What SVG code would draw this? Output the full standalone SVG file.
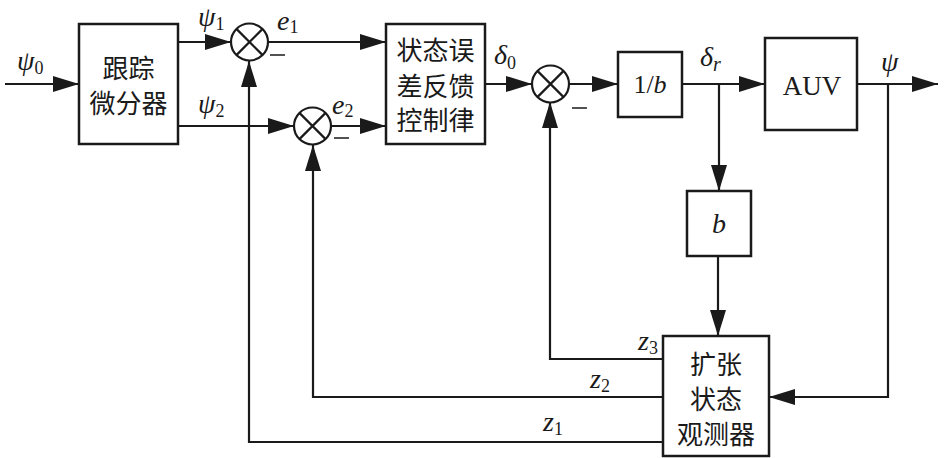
<svg xmlns="http://www.w3.org/2000/svg" width="945" height="458" viewBox="0 0 945 458">
<style>
.box{fill:#fff;stroke:#1a1a1a;stroke-width:2.5}
.ln{fill:none;stroke:#1a1a1a;stroke-width:2.2}
.mn{fill:none;stroke:#1a1a1a;stroke-width:1.5}
.sum{fill:#fff;stroke:#1a1a1a;stroke-width:2.2}
.cn{font-family:"Noto Sans CJK SC","Noto Sans CJK JP",sans-serif;font-size:26px;fill:#1a1a1a;text-anchor:middle}
.tm{font-family:"Liberation Serif",serif;fill:#1a1a1a}
.it{font-style:italic;font-size:28px}
.sb{font-size:18px;font-style:normal}
</style>
<defs>
<marker id="ar" markerUnits="userSpaceOnUse" markerWidth="26" markerHeight="16" refX="26" refY="8" orient="auto">
<path d="M0,0 L26,8 L0,16 z" fill="#1a1a1a"/>
</marker>
</defs>
<rect width="945" height="458" fill="#fff"/>
<g id="connectors">
<path class="ln" d="M5,84 H79" marker-end="url(#ar)"/>
<path class="ln" d="M178,42 H231" marker-end="url(#ar)"/>
<path class="ln" d="M268,42 H386" marker-end="url(#ar)"/>
<path class="ln" d="M178,126 H294" marker-end="url(#ar)"/>
<path class="ln" d="M331,126 H386" marker-end="url(#ar)"/>
<path class="ln" d="M485,84 H532" marker-end="url(#ar)"/>
<path class="ln" d="M569,84 H618" marker-end="url(#ar)"/>
<path class="ln" d="M682,84 H765" marker-end="url(#ar)"/>
<path class="ln" d="M857,84 H938" marker-end="url(#ar)"/>
<path class="ln" d="M719,84 V191" marker-end="url(#ar)"/>
<path class="ln" d="M718,256 V336" marker-end="url(#ar)"/>
<path class="ln" d="M888,84 V397 H769" marker-end="url(#ar)"/>
<path class="ln" d="M663,359 H550 V102" marker-end="url(#ar)"/>
<path class="ln" d="M663,397 H313 V145" marker-end="url(#ar)"/>
<path class="ln" d="M663,442 H249 V61" marker-end="url(#ar)"/>
</g>
<g id="td">
<rect class="box" x="79" y="24" width="99" height="120"/>
<text class="cn" x="128.5" y="78">跟踪</text>
<text class="cn" x="128.5" y="113">微分器</text>
</g>
<g id="sum1">
<circle class="sum" cx="249.5" cy="42" r="18.5"/>
<path class="ln" d="M236.4,28.9 L262.6,55.1 M262.6,28.9 L236.4,55.1"/>
</g>
<g id="sum2">
<circle class="sum" cx="312.5" cy="126" r="18.5"/>
<path class="ln" d="M299.4,112.9 L325.6,139.1 M325.6,112.9 L299.4,139.1"/>
</g>
<g id="sum3">
<circle class="sum" cx="550.5" cy="84" r="18.5"/>
<path class="ln" d="M537.4,70.9 L563.6,97.1 M563.6,70.9 L537.4,97.1"/>
</g>
<g id="ctrl">
<rect class="box" x="386" y="24" width="99" height="120"/>
<text class="cn" x="435.5" y="60">状态误</text>
<text class="cn" x="435.5" y="96">差反馈</text>
<text class="cn" x="435.5" y="130">控制律</text>
</g>
<g id="invb">
<rect class="box" x="618" y="52" width="64" height="65"/>
<text class="tm" x="650" y="93" font-size="26" text-anchor="middle">1/<tspan font-style="italic">b</tspan></text>
</g>
<g id="auv">
<rect class="box" x="765" y="38" width="92" height="92"/>
<text class="tm" x="812" y="95" font-size="27" text-anchor="middle">AUV</text>
</g>
<g id="bbox">
<rect class="box" x="687" y="191" width="64" height="65"/>
<text class="tm it" x="719" y="233" text-anchor="middle">b</text>
</g>
<g id="eso">
<rect class="box" x="663" y="336" width="106" height="120"/>
<text class="cn" x="716" y="374">扩张</text>
<text class="cn" x="716" y="409">状态</text>
<text class="cn" x="716" y="444">观测器</text>
</g>
<g id="labels">
<text class="tm it" x="17" y="70">ψ<tspan class="sb" dy="4">0</tspan></text>
<text class="tm it" x="198" y="26">ψ<tspan class="sb" dy="4">1</tspan></text>
<text class="tm it" x="198" y="113">ψ<tspan class="sb" dy="4">2</tspan></text>
<text class="tm it" x="277" y="30">e<tspan class="sb" dy="3">1</tspan></text>
<text class="tm it" x="332" y="114">e<tspan class="sb" dy="3">2</tspan></text>
<text class="tm it" x="494" y="64">δ<tspan class="sb" dy="5">0</tspan></text>
<text class="tm it" x="700" y="66">δ<tspan style="font-size:20px" dy="5">r</tspan></text>
<text class="tm it" x="881" y="71">ψ</text>
<text class="tm it" x="638" y="350">z<tspan class="sb" dy="4">3</tspan></text>
<text class="tm it" x="590" y="388">z<tspan class="sb" dy="4">2</tspan></text>
<text class="tm it" x="543" y="431">z<tspan class="sb" dy="4">1</tspan></text>
<path class="mn" d="M270,55 H285 M334,138 H349 M572,108 H587"/>
</g>
</svg>
